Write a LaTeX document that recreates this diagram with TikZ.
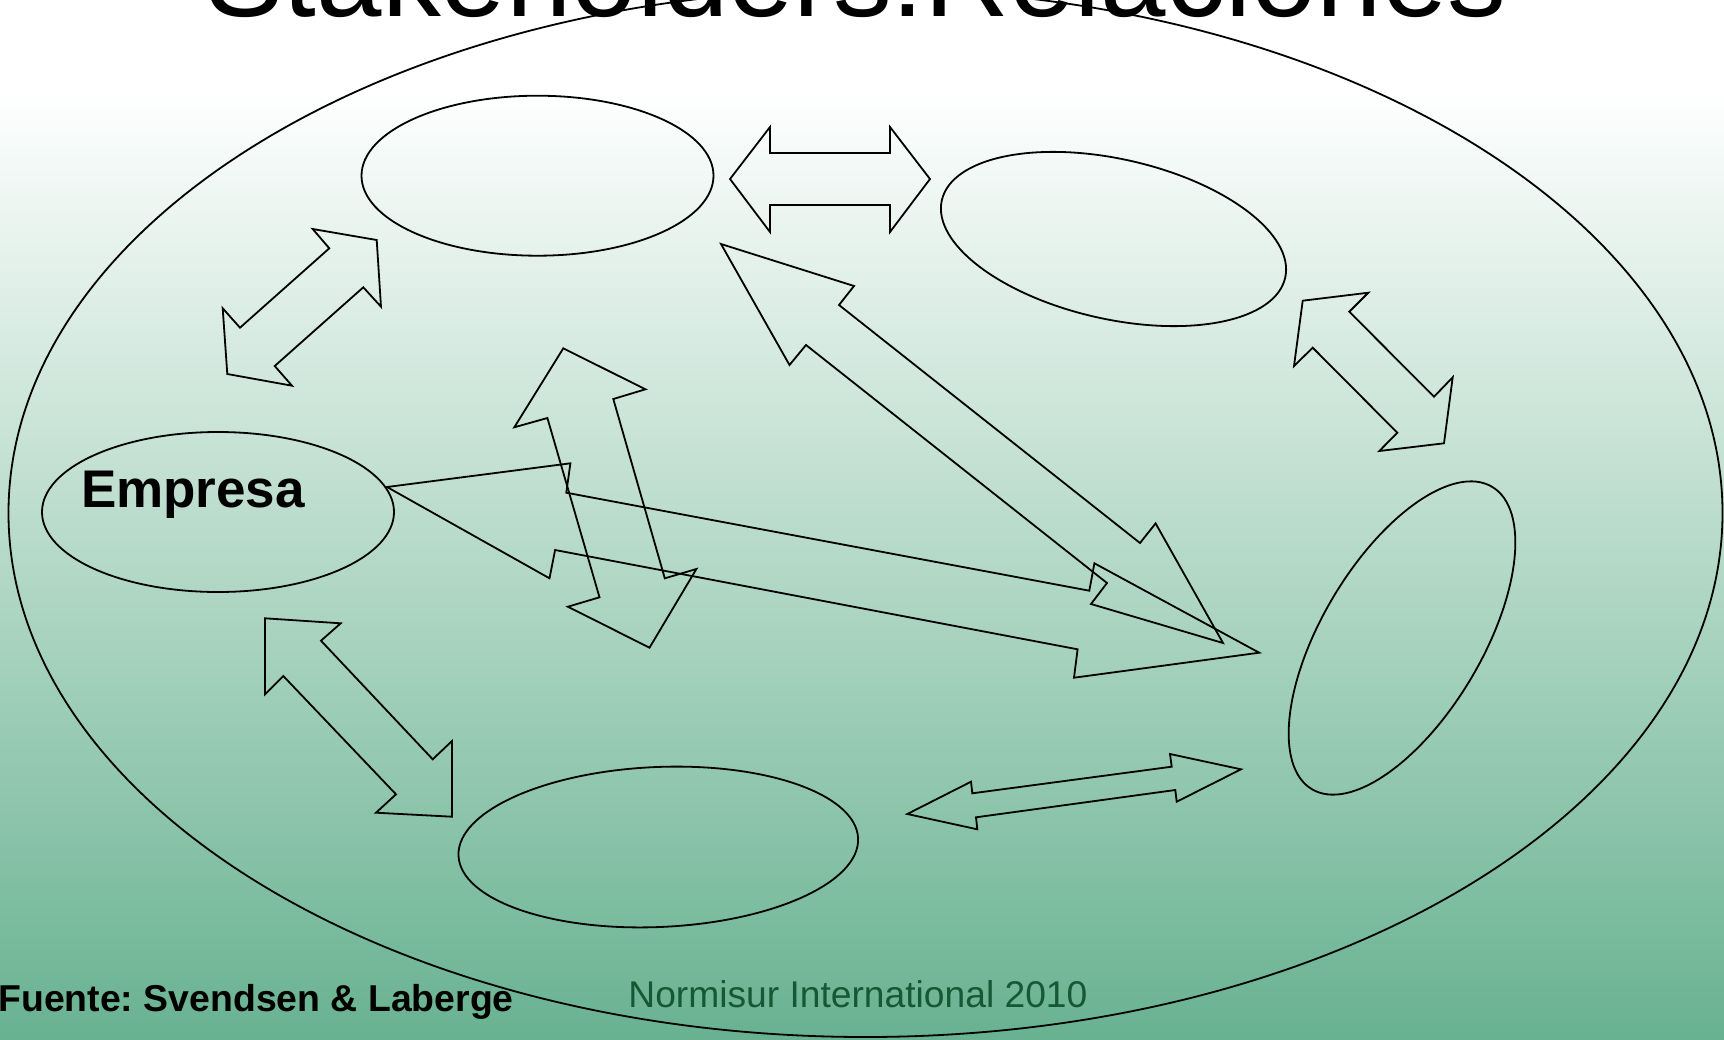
\documentclass[tikz,border=0pt]{standalone}
\usepackage{fontspec}
\setmainfont{Liberation Sans}
\usetikzlibrary{shapes.geometric}
\definecolor{bgbottom}{RGB}{104,178,144}
\definecolor{footgreen}{RGB}{22,88,52}
\frenchspacing
\begin{document}
\begin{tikzpicture}[x=0.5pt,y=-0.5pt,
  party/.style={draw=black, line width=0.9pt, ellipse, inner sep=0pt,
                minimum width=176pt, minimum height=80pt},
  blockarrow/.style={draw=black, line width=0.9pt, line join=miter},
  label/.style={inner sep=0pt, anchor=base}]

\useasboundingbox (0,0) rectangle (1724,1039);
\clip (0,0) rectangle (1724,1039);

% slide background: white band, then a fade into green
\fill[white] (0,0) rectangle (1724,92);
\shade[top color=white, bottom color=bgbottom] (0,90) rectangle (1724,1039);

% title, running off the top edge
\node[label, font=\fontsize{58.8}{62}\selectfont] (title) at (856,16) {Stakeholders:Relaciones};

% surrounding environment
\node[draw=black, line width=0.9pt, ellipse, inner sep=0pt,
      minimum width=857pt, minimum height=524pt] (entorno) at (865.5,513) {};

% stakeholder groups
\node[party] (empresa) at (218,512) {};
\node[label, font=\fontsize{26.5}{30}\selectfont\bfseries] (empresatxt) at (193,507) {Empresa};
\node[party] (grupoA) at (537.5,175.7) {};
\node[party, rotate=-12.7] (grupoB) at (1113.5,239) {};
\node[party, rotate=59.2] (grupoE) at (1402,638) {};
\node[party, minimum width=200pt, rotate=2.5] (grupoD) at (658.3,847) {};

% two-headed block arrows between the groups
\draw[blockarrow] (312.7,229) -- (376.7,240) -- (381,306.7) -- (363.3,287.3) -- (274.7,366)
  -- (292,385.7) -- (227.3,374) -- (222.7,308.3) -- (240,327.7) -- (329.3,248.3) -- cycle;
\draw[blockarrow] (730,179) -- (770,127) -- (770,153) -- (890,153) -- (890,127)
  -- (930,179) -- (890,232) -- (890,205) -- (770,205) -- (770,232) -- cycle;
\draw[blockarrow] (1302.7,300.7) -- (1368.3,292.7) -- (1349.3,311.7) -- (1434,396.7) -- (1452.7,377.3)
  -- (1444,443.3) -- (1379.3,451) -- (1397.3,432.7) -- (1312.7,347.7) -- (1294,366) -- cycle;
\draw[blockarrow] (265,618.3) -- (340.7,623.3) -- (321,640.7) -- (432.7,759.3) -- (452,741)
  -- (452,816.7) -- (376,812.7) -- (396,794.3) -- (283.3,676) -- (265,694.3) -- cycle;
\draw[blockarrow] (907.3,814) -- (971,781.7) -- (972.3,793.3) -- (1171.7,766.7) -- (1170,754)
  -- (1241,769.3) -- (1176.7,801.7) -- (1175.3,790) -- (976,817.3) -- (977.3,829.3) -- cycle;
\draw[blockarrow] (563.3,348.3) -- (645.4,389.3) -- (613.3,399) -- (664.8,578.3) -- (696.4,569)
  -- (649.5,647.7) -- (567.9,606.7) -- (599.5,597.3) -- (547.4,418) -- (514.3,427.3) -- cycle;
\draw[blockarrow] (387,487) -- (570.4,463.3) -- (566.3,492.7) -- (1089.3,590.7) -- (1094.4,563.3)
  -- (1259.2,652.7) -- (1074,677.7) -- (1077.6,649.3) -- (555.1,550) -- (549.5,578.3) -- cycle;
\draw[blockarrow] (721,244) -- (854,286) -- (839,305) -- (1140,543) -- (1155.6,523.4)
  -- (1223,643) -- (1091,604) -- (1107,583) -- (806,345) -- (789.5,365) -- cycle;

% footer
\node[label, anchor=base west, font=\fontsize{18.7}{22}\selectfont\bfseries] (fuente) at (-2,1011.5)
  {Fuente: Svendsen \& Laberge};
\node[label, anchor=base west, text=footgreen, font=\fontsize{18.6}{22}\selectfont] (normisur) at (628,1007)
  {Normisur International 2010};
\end{tikzpicture}
\end{document}
